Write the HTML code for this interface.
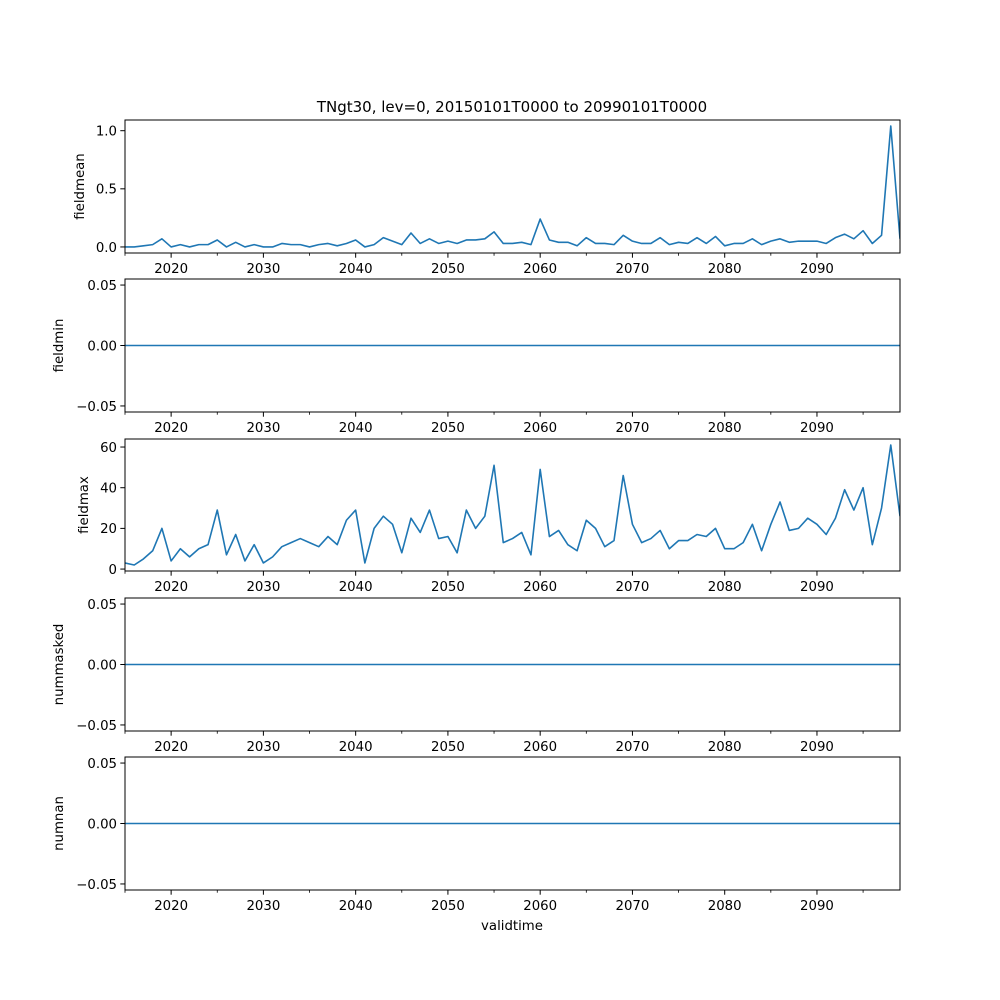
<!DOCTYPE html>
<html><head><meta charset="utf-8"><style>
html,body{margin:0;padding:0;background:#fff;}
svg{display:block;font-family:"DejaVu Sans","Liberation Sans",sans-serif;}
</style></head><body>
<svg id="chart" width="1000" height="1000" viewBox="0 0 1000 1000">
<rect width="1000" height="1000" fill="#fff"/>
<text x="512" y="112" text-anchor="middle" font-size="15">TNgt30, lev=0, 20150101T0000 to 20990101T0000</text>
<text x="512" y="930" text-anchor="middle" font-size="13.3">validtime</text>
</svg>
<script>
const years = [];
for (let y = 2015; y <= 2099; y++) years.push(y);
const fieldmeanValues = [0.0,0.0,0.01,0.02,0.07,0.0,0.02,0.0,0.02,0.02,0.06,0.0,0.04,0.0,0.02,0.0,0.0,0.03,0.02,0.02,0.0,0.02,0.03,0.01,0.03,0.06,0.0,0.02,0.08,0.05,0.02,0.12,0.03,0.07,0.03,0.05,0.03,0.06,0.06,0.07,0.13,0.03,0.03,0.04,0.02,0.24,0.06,0.04,0.04,0.01,0.08,0.03,0.03,0.02,0.1,0.05,0.03,0.03,0.08,0.02,0.04,0.03,0.08,0.03,0.09,0.01,0.03,0.03,0.07,0.02,0.05,0.07,0.04,0.05,0.05,0.05,0.03,0.08,0.11,0.07,0.14,0.03,0.1,1.04,0.07];
const fieldmaxValues = [3,2,5,9,20,4,10,6,10,12,29,7,17,4,12,3,6,11,13,15,13,11,16,12,24,29,3,20,26,22,8,25,18,29,15,16,8,29,20,26,51,13,15,18,7,49,16,19,12,9,24,20,11,14,46,22,13,15,19,10,14,14,17,16,20,10,10,13,22,9,22,33,19,20,25,22,17,25,39,29,40,12,30,61,26];
const zeroValues = years.map(() => 0);
const xTickLabels = [2020,2030,2040,2050,2060,2070,2080,2090];
const xMinorTicks = [2015,2025,2035,2045,2055,2065,2075,2085,2095];
const meanTicks = [0.0,0.5,1.0];
const meanTickLabels = ["0.0","0.5","1.0"];
const zeroTicks = [-0.05,0.0,0.05];
const zeroTickLabels = ["−0.05","0.00","0.05"];
const maxTicks = [0,20,40,60];
const maxTickLabels = ["0","20","40","60"];

const NS = "http://www.w3.org/2000/svg";
const svg = document.getElementById("chart");
const L = 125, R = 900;
const xDomain = [2015, 2099];
function xScale(v){ return L + (v - xDomain[0]) / (xDomain[1] - xDomain[0]) * (R - L); }
function mk(tag, attrs, parent){ const e = document.createElementNS(NS, tag); for (const k in attrs) e.setAttribute(k, attrs[k]); parent.appendChild(e); return e; }

const panels = [
  {name:"fieldmean", top:120, bot:253, ymin:-0.052, ymax:1.092, vals:fieldmeanValues, ticks:meanTicks, labels:meanTickLabels, labelX:84},
  {name:"fieldmin", top:279, bot:412, ymin:-0.055, ymax:0.055, vals:zeroValues, ticks:zeroTicks, labels:zeroTickLabels, labelX:63},
  {name:"fieldmax", top:439, bot:571, ymin:-0.95, ymax:63.95, vals:fieldmaxValues, ticks:maxTicks, labels:maxTickLabels, labelX:88},
  {name:"nummasked", top:598, bot:731, ymin:-0.055, ymax:0.055, vals:zeroValues, ticks:zeroTicks, labels:zeroTickLabels, labelX:63},
  {name:"numnan", top:757, bot:890, ymin:-0.055, ymax:0.055, vals:zeroValues, ticks:zeroTicks, labels:zeroTickLabels, labelX:63}
];

panels.forEach(p => {
  const g = mk("g", {}, svg);
  
  
  const yScale = v => p.bot - (v - p.ymin) / (p.ymax - p.ymin) * (p.bot - p.top);
  const d = years.map((yr, i) => (i ? "L" : "M") + xScale(yr).toFixed(2) + "," + yScale(p.vals[i]).toFixed(2)).join(" ");
  const clipId = "clip-" + p.name;
  const cp = mk("clipPath", {id: clipId}, g);
  mk("rect", {x:L, y:p.top, width:R-L, height:p.bot-p.top}, cp);
  const line = mk("path", {d:d, fill:"none", stroke:"#1f77b4", "stroke-width":1.6, "stroke-linejoin":"round", "clip-path":"url(#"+clipId+")"}, g);
  
  
  const frame = mk("rect", {x:L, y:p.top, width:R-L, height:p.bot-p.top, fill:"none", stroke:"#000", "stroke-width":1}, g);
  
  
  xTickLabels.forEach(t => {
    const x = xScale(t);
    mk("line", {x1:x, x2:x, y1:p.bot, y2:p.bot+4.7, stroke:"#000", "stroke-width":1}, g);
    const tx = mk("text", {x:x, y:p.bot+20, "text-anchor":"middle", "font-size":13.3}, g);
    tx.textContent = t;
    
    
  });
  xMinorTicks.forEach(t => {
    const x = xScale(t);
    mk("line", {x1:x, x2:x, y1:p.bot, y2:p.bot+2.7, stroke:"#000", "stroke-width":0.8}, g);
  });
  p.ticks.forEach((t, i) => {
    const y = yScale(t);
    mk("line", {x1:L-4.7, x2:L, y1:y, y2:y, stroke:"#000", "stroke-width":1}, g);
    const tx = mk("text", {x:L-8, y:y+4.8, "text-anchor":"end", "font-size":13.3}, g);
    tx.textContent = p.labels[i];
    
    
  });
  const cy = (p.top + p.bot) / 2;
  const yl = mk("text", {x:p.labelX, y:cy, "text-anchor":"middle", "font-size":13.3, transform:"rotate(-90 "+p.labelX+" "+cy+")"}, g);
  yl.textContent = p.name;
  
  
});
</script>
</body></html>
